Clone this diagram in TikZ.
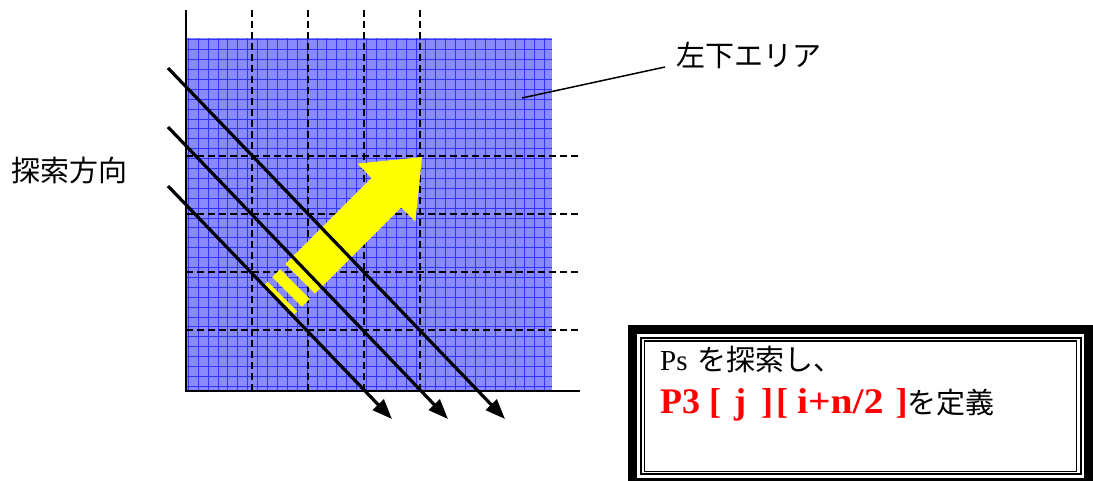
\documentclass[tikz,border=0pt]{standalone}
\usepackage{fontspec}
\setmainfont{Liberation Serif}
\newfontfamily\jp{Noto Sans CJK JP}
\usetikzlibrary{arrows.meta}
\definecolor{areablue}{RGB}{138,138,255}
\definecolor{gridblue}{RGB}{50,50,255}
\definecolor{arrowyellow}{RGB}{255,255,0}
\definecolor{textred}{RGB}{255,0,0}
\tikzset{
  axisline/.style={line width=2pt, black},
  guide/.style={line width=1.4pt, black, dash pattern=on 7pt off 4pt},
  gridline/.style={line width=0.55pt, gridblue},
  diag/.style={line width=3.2pt, black, -{Triangle[length=20pt,width=15pt]}},
  leader/.style={line width=1.5pt, black},
  jplabel/.style={inner sep=0pt, font=\jp\fontsize{29}{33}\selectfont},
  boxtext/.style={inner sep=0pt, anchor=base west},
}
\begin{document}
\begin{tikzpicture}[x=1pt, y=-1pt]
\useasboundingbox (0,0) rectangle (1093,480);
\clip (0,0) rectangle (1093,480);

% blue area with fine grid
\fill[areablue] (186,38) rectangle (552,391);
\foreach \gx in {188.1,198,...,550} {\draw[gridline] (\gx,38) -- (\gx,391);}
\foreach \gy in {39.6,49.5,...,390} {\draw[gridline] (186,\gy) -- (552,\gy);}

% axes
\coordinate (ytop) at (186,10);
\coordinate (orig) at (186,391);
\coordinate (xend) at (580,391);
\draw[axisline] (ytop) -- (orig) -- (xend);

% dashed guide lines
\foreach \vx in {252,308,364,420} {\draw[guide] (\vx,10) -- (\vx,391);}
\foreach \hy in {156,214,272,330} {\draw[guide] (186,\hy) -- (580,\hy);}

% yellow arrow
\fill[arrowyellow] (422.0,157.0) -- (415.4,221.6) -- (401.2,207.5) -- (315.0,293.7)
  -- (285.3,264.0) -- (371.5,177.8) -- (357.4,163.6) -- cycle;
\fill[arrowyellow] (309.8,298.9) -- (301.9,306.8) -- (272.2,277.1) -- (280.1,269.2) -- cycle;
\fill[arrowyellow] (297.3,311.4) -- (294.4,314.2) -- (264.8,284.6) -- (267.6,281.7) -- cycle;

% search direction lines
\coordinate (s1) at (168,68);   \coordinate (e1) at (505,419);
\coordinate (s2) at (168,127);  \coordinate (e2) at (448,419);
\coordinate (s3) at (168,186);  \coordinate (e3) at (392,419);
\draw[diag] (s1) -- (e1);
\draw[diag] (s2) -- (e2);
\draw[diag] (s3) -- (e3);

% labels
\node[jplabel, anchor=west] (dir) at (11,170) {探索方向};
\node[jplabel, anchor=west] (area) at (676,55) {左下エリア};
\coordinate (lp) at (522,98);
\coordinate (lq) at (665,67);
\draw[leader] (lp) -- (lq);

% framed box
\draw[line width=9pt] (632.8,329.8) rectangle (1088.8,482);
\draw[line width=2pt] (641,337.5) rectangle (1081,474.2);
\draw[line width=1.1pt] (644.8,341) rectangle (1076.8,471.2);
\node[boxtext] (ps) at (660,370) {\fontsize{29}{33}\selectfont Ps\hspace{0.35em}{\jp を探索し、}};
\node[boxtext] (p3) at (660,413) {\fontsize{36}{40}\selectfont\bfseries\color{textred}P3\hspace{9pt}[\hspace{13pt}j\hspace{15pt}]\hspace{3pt}[\hspace{9pt}\scalebox{1.1}[1]{i+n/2}\hspace{12pt}]{\mdseries\color{black}\jp\fontsize{29}{33}\selectfont を定義}};
\end{tikzpicture}
\end{document}
